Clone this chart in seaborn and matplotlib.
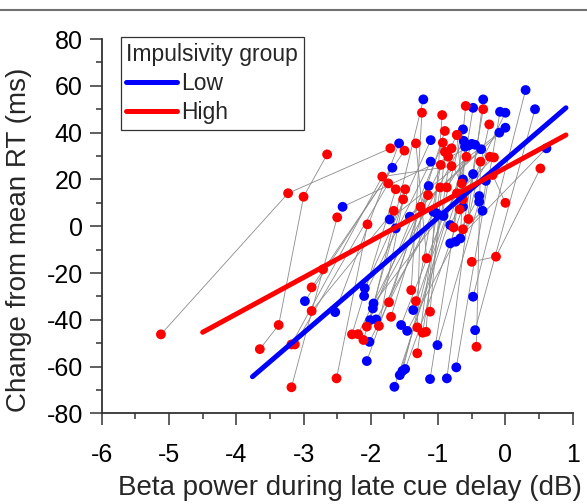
import numpy as np
import pandas as pd
import matplotlib
matplotlib.use("Agg")
import matplotlib.pyplot as plt
from matplotlib.ticker import MultipleLocator
from matplotlib.lines import Line2D
import seaborn as sns

# ---------------- data ----------------
# Low impulsivity group: points (x = beta power dB, y = change in RT ms), subject id
low_x = [-2.98, -1.68, -2.53, -1.58, -2.10, -1.11, -2.09, -1.11, -2.06, -1.14,
         -2.02, -1.07, -2.01, -1.22, -1.97, -0.62, -1.96, -0.48, -1.92, -1.02,
         -1.65, -0.63, -1.57, -0.55, -1.55, -0.92, -1.53, -0.63, -1.49, -0.63,
         -1.46, -0.39, -1.37, -0.50, -1.12, -0.48, -1.01, -0.39, -0.87, -0.33,
         -0.73, -0.08, -0.48, 0.30, -0.45, 0.44,
         -2.42, -0.45, -1.72, -0.09, -1.63, -0.36, -1.42, 0.00, -0.82, 0.00,
         -0.82, -0.34, -0.29, -0.74, 0.61, -0.67, -0.60]
low_y = [-32.0, 25.0, -36.7, 35.4, -29.8, 27.6, -26.5, 36.8, -57.6, 17.2,
         -49.4, 6.2, -40.1, 54.2, -35.1, 36.5, -33.0, 22.3, -39.8, 5.5,
         -68.6, 20.0, -63.6, 34.5, -42.2, 4.4, -61.8, 41.4, -61.0, 8.3,
         -44.7, 12.9, -35.8, 35.2, -65.3, 50.6, -50.8, 10.5, -65.0, 54.2,
         -60.3, 48.9, -30.1, 58.2, -44.4, 50.0,
         8.3, 34.8, 2.9, 40.0, -0.9, 32.9, 4.1, 42.1, 0.5, 48.5,
         -7.3, 6.6, 19.4, -6.6, 33.3, -5.2, 34.0]
low_subj = [1, 1, 2, 2, 3, 3, 4, 4, 5, 5,
            6, 6, 7, 7, 8, 8, 9, 9, 10, 10,
            11, 11, 12, 12, 13, 13, 14, 14, 15, 15,
            16, 16, 17, 17, 18, 18, 19, 19, 20, 20,
            21, 21, 22, 22, 23, 23,
            24, 24, 25, 25, 26, 26, 27, 27, 28, 28,
            29, 29, 29, 30, 30, 31, 31]

# High impulsivity group
high_x = [-5.12, -3.23, -1.71,
          -3.65, -3.37, -3.00, -2.65,
          -3.18, -2.71, -2.50,
          -3.18, -1.83, -0.80,
          -3.13, -1.74,
          -2.88, -1.50,
          -2.88, -1.66,
          -2.51, -2.05,
          -2.28, -1.63,
          -2.19, -0.72,
          -2.11, -1.52,
          -2.06, -0.93,
          -1.88, -1.49,
          -1.73, -0.90,
          -1.70, -1.15,
          -1.40, -1.24,
          -1.33, -0.96,
          -1.31, -1.26,
          -1.31, -0.97,
          -1.23, -0.80,
          -1.18, -0.94,
          -1.17, -1.33,
          -1.12, -0.90,
          -0.50, -0.14, 0.52,
          -0.43, -0.37,
          -0.77, -0.59,
          -0.63, -0.33,
          -0.55, -0.24,
          -0.68, -0.23,
          -0.63, -0.72,
          -0.72, -0.17,
          -0.87, -0.58,
          -0.19, 0.00,
          -0.65, -0.85]
high_y = [-46.2, 14.1, 33.3,
          -52.5, -42.2, 12.6, 30.7,
          -68.8, -18.4, 3.8,
          -50.5, 21.2, 25.7,
          -50.5, 18.3,
          -26.1, 32.3,
          -36.2, 6.6,
          -65.0, 0.8,
          -46.2, 15.8,
          -46.1, 39.0,
          -48.6, 11.5,
          -42.9, 35.7,
          -42.6, 15.8,
          -32.5, 40.7,
          -38.7, 13.3,
          -27.3, 48.5,
          -32.0, 26.2,
          -43.2, 8.3,
          -54.3, 16.6,
          -45.5, 33.3,
          -45.1, 47.5,
          -13.7, 35.4,
          -36.5, 31.8,
          -15.2, -13.0, 24.7,
          -51.5, 27.6,
          -0.5, 51.4,
          -1.3, 50.0,
          3.1, 43.5,
          7.2, 29.7,
          11.5, 39.0,
          14.1, 29.4,
          16.6, 29.7,
          21.9, 10.0,
          18.3, 29.7]
high_subj = [101, 101, 101,
             102, 102, 102, 102,
             103, 103, 103,
             104, 104, 104,
             105, 105,
             106, 106,
             107, 107,
             108, 108,
             109, 109,
             110, 110,
             111, 111,
             112, 112,
             113, 113,
             114, 114,
             115, 115,
             116, 116,
             117, 117,
             118, 118,
             119, 119,
             120, 120,
             121, 121,
             122, 122,
             123, 123,
             124, 124, 124,
             125, 125,
             126, 126,
             127, 127,
             128, 128,
             129, 129,
             130, 130,
             131, 131,
             132, 132,
             133, 133,
             134, 134]

# Group regression lines (end points)
fit_low_x = [-3.76, 0.90]
fit_low_y = [-64.3, 50.6]
fit_high_x = [-4.50, 0.90]
fit_high_y = [-45.3, 39.0]

groups = ["Low", "High"]
colors = {"Low": "#0000FF", "High": "#FF0000"}

# ---------------- build frames ----------------
pts = pd.concat([
    pd.DataFrame({"x": low_x, "y": low_y, "subj": low_subj, "group": "Low"}),
    pd.DataFrame({"x": high_x, "y": high_y, "subj": high_subj, "group": "High"}),
], ignore_index=True)
fits = pd.concat([
    pd.DataFrame({"x": fit_low_x, "y": fit_low_y, "group": "Low"}),
    pd.DataFrame({"x": fit_high_x, "y": fit_high_y, "group": "High"}),
], ignore_index=True)

# ---------------- figure ----------------
sns.set_style("white")
plt.rcParams["font.family"] = ["Liberation Sans", "DejaVu Sans"]
plt.rcParams["axes.unicode_minus"] = False

fig = plt.figure(figsize=(5.87, 5.04), dpi=100)
ax = fig.add_axes([0.1733, 0.1796, 0.8023, 0.7430])

sns.lineplot(data=pts, x="x", y="y", units="subj", estimator=None, sort=False,
             color="#8c8c8c", lw=0.6, ax=ax, legend=False, zorder=1)
sns.scatterplot(data=pts, x="x", y="y", hue="group", palette=colors,
                hue_order=["High", "Low"], s=50, linewidth=0, ax=ax,
                legend=False, zorder=2)
sns.lineplot(data=fits, x="x", y="y", hue="group", palette=colors,
             hue_order=groups, lw=3.6, ax=ax, zorder=3, sort=False,
             solid_capstyle="round")
for ln in ax.get_lines():
    if ln.get_color() in ("#FF0000", "#ff0000"):
        ln.set_zorder(4)

ax.set_xlim(-6, 1)
ax.set_ylim(-80, 80)
ax.set_xticks(range(-6, 2))
ax.set_yticks(range(-80, 81, 20))
ax.xaxis.set_minor_locator(MultipleLocator(0.5))
ax.yaxis.set_minor_locator(MultipleLocator(10))
ax.tick_params(which="major", direction="out", length=8.6, width=1.1,
               color="#333333", labelsize=18, labelcolor="black",
               bottom=True, left=True)
ax.tick_params(axis="x", which="major", pad=13)
ax.tick_params(axis="y", which="major", pad=5)
ax.tick_params(which="minor", direction="out", length=4.3, width=1.1,
               color="#333333", bottom=True, left=True)
for s in ["top", "right"]:
    ax.spines[s].set_visible(False)
for s in ["left", "bottom"]:
    ax.spines[s].set_color("#333333")
    ax.spines[s].set_linewidth(1.3)

ax.set_xlabel("Beta power during late cue delay (dB)", fontsize=20)
ax.set_ylabel("Change from mean RT (ms)", fontsize=20)
ax.xaxis.set_label_coords(0.527, -0.20)
ax.xaxis.label.set_va("center")
ax.yaxis.set_label_coords(-0.175, 0.463)
ax.yaxis.label.set_va("center")

handles, labels = ax.get_legend_handles_labels()
leg = ax.legend(handles=handles, labels=labels, title="Impulsivity group",
                loc="upper left", bbox_to_anchor=(0.2056, 0.926),
                bbox_transform=fig.transFigure, fontsize=16.5, title_fontsize=16.5,
                frameon=True, fancybox=False, framealpha=1, edgecolor="#333333",
                handlelength=2.2, handletextpad=0.2, borderpad=0.25,
                labelspacing=0.27, borderaxespad=0, alignment="left")
leg.get_frame().set_linewidth(0.9)
for h in leg.get_lines():
    h.set_linewidth(3.6)

fig.add_artist(Line2D([0, 1], [1 - 10 / 504, 1 - 10 / 504],
                      transform=fig.transFigure, color="#707070", lw=1.5))

fig.savefig("out.png", dpi=100)
